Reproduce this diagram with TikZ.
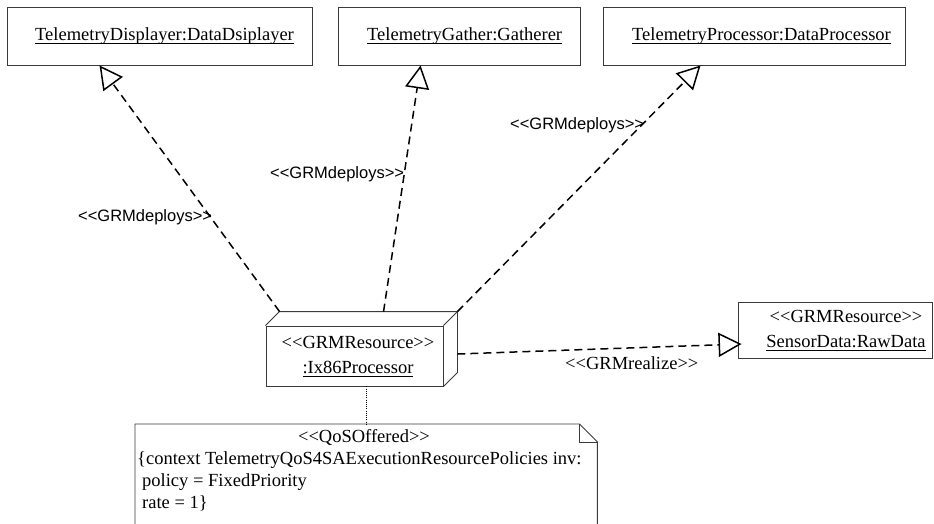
\documentclass[tikz,border=0pt]{standalone}
\usepackage{fontspec}
\setmainfont{Liberation Serif}
\newfontfamily\labelfont{Liberation Sans}
\usetikzlibrary{arrows.meta,calc}
\definecolor{boxc}{HTML}{3A3A3A}
\newcommand{\ulx}[1]{\setbox0\hbox{#1}\rlap{\rule[-3.5pt]{\wd0}{0.8pt}}\box0}
\newcommand{\ltlt}{<\kern0pt<}
\newcommand{\gtgt}{>\kern0pt>}
\begin{document}
\begin{tikzpicture}[x=1pt,y=-1pt,
  box/.style={draw=boxc, line width=0.9pt, inner sep=0pt, minimum height=58pt},
  boxline/.style={draw=boxc, line width=0.9pt},
  txt/.style={inner sep=0pt, font=\fontsize{18.5}{22}\selectfont},
  lbl/.style={inner sep=0pt, font=\labelfont\fontsize{16.5}{20}\selectfont},
  dep/.style={draw=black, line width=1.5pt, dash pattern=on 8pt off 5pt,
    -{Triangle[open, length=23pt, width=24pt, line width=1.5pt]}},
]
\useasboundingbox (0,0) rectangle (934,523);
\clip (0,0) rectangle (934,523);
\fill[white] (0,0) rectangle (934,523);

% top boxes
\node[box, minimum width=305pt] (disp) at (159.5,36) {};
\node[txt, anchor=base west] (dispt) at (35,40) {\ulx{TelemetryDisplayer:DataDsiplayer}};
\node[box, minimum width=242pt] (gath) at (459,36) {};
\node[txt, anchor=base west] (gatht) at (367,40) {\ulx{TelemetryGather:Gatherer}};
\node[box, minimum width=302pt] (tproc) at (754,36) {};
\node[txt, anchor=base west] (tproct) at (632,40) {\ulx{TelemetryProcessor:DataProcessor}};

% processor node (3D)
\node[box, minimum width=177pt, minimum height=60pt] (proc) at (354.5,356) {};
\coordinate (pA) at ([shift={(14,-14)}]proc.north west);
\coordinate (pB) at ([shift={(14,-14)}]proc.north east);
\coordinate (pC) at ([shift={(14,-14)}]proc.south east);
\draw[boxline] (proc.north west) -- (pA) -- (pB) -- (pC) -- (proc.south east);
\draw[boxline] (proc.north east) -- (pB);
\node[txt, anchor=base] (pt1) at (358,348) {\ltlt GRMResource\gtgt};
\node[txt, anchor=base] (pt2) at (358,373) {\ulx{:Ix86Processor}};

% sensor box
\node[box, minimum width=194pt, minimum height=56pt] (sens) at (835,330) {};
\node[txt, anchor=base] (st1) at (846,322) {\ltlt GRMResource\gtgt};
\node[txt, anchor=base] (st2) at (846,347) {\ulx{SensorData:RawData}};

% note
\node[minimum width=462pt, minimum height=120pt, anchor=north west, inner sep=0pt] (note) at (135,424) {};
\draw[boxline] (note.south west) -- (note.north west) -- ([xshift=-18pt]note.north east)
  -- ([yshift=-18pt]note.north east) -- (note.south east);
\draw[boxline] ([xshift=-18pt]note.north east) -- ++(0,18) -- ([yshift=-18pt]note.north east);
\node[txt, anchor=base] (n1) at (364,442) {\ltlt QoSOffered\gtgt};
\node[txt, anchor=base west] (n2) at (137,464) {\{context TelemetryQoS4SAExecutionResourcePolicies inv:};
\node[txt, anchor=base west] (n3) at (142,486) {policy = FixedPriority};
\node[txt, anchor=base west] (n4) at (142,508) {rate = 1\}};

% connectors
\coordinate (pG) at ([shift={(118,-14)}]proc.north west);
\coordinate (pR) at ([shift={(14,-2)}]proc.east);
\coordinate (dT) at ([xshift=93pt]disp.south west);
\coordinate (gT) at ([xshift=83pt]gath.south west);
\coordinate (tT) at ([xshift=98pt]tproc.south west);
\coordinate (sT) at ([shift={(4,14)}]sens.west);
\draw[dep] (pA) -- (dT);
\draw[dep] (pG) -- (gT);
\draw[dep] (pB) -- (tT);
\draw[dep] (pR) -- (sT);

\coordinate (dq) at ([xshift=11.5pt]proc.south);
\draw[line width=1pt, dash pattern=on 1pt off 1.2pt] (dq) -- (dq |- note.north);

% labels
\node[lbl, anchor=base west] (l1) at (78,221) {\ltlt GRMdeploys\gtgt};
\node[lbl, anchor=base west] (l2) at (270,178) {\ltlt GRMdeploys\gtgt};
\node[lbl, anchor=base west] (l3) at (510,129) {\ltlt GRMdeploys\gtgt};
\node[txt, anchor=base west] (l4) at (565,369) {\ltlt GRMrealize\gtgt};
\end{tikzpicture}
\end{document}
